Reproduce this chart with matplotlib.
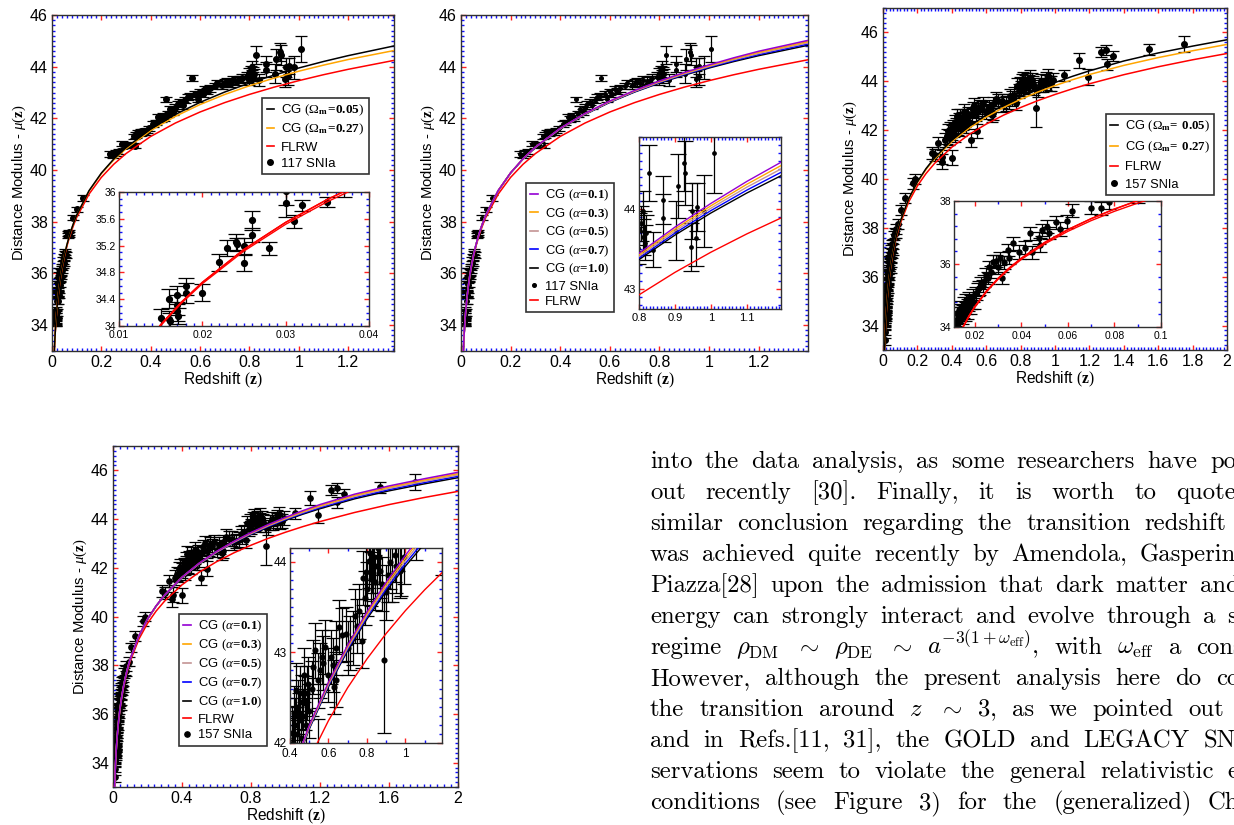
import re
import matplotlib
matplotlib.use('Agg')
import matplotlib.pyplot as plt
from matplotlib.lines import Line2D
from matplotlib.ticker import MultipleLocator, FuncFormatter

plt.rcParams['font.family'] = ['Liberation Sans', 'DejaVu Sans']
plt.rcParams['mathtext.fontset'] = 'custom'
plt.rcParams['mathtext.rm'] = 'Liberation Serif'
plt.rcParams['mathtext.it'] = 'Liberation Serif:italic'
plt.rcParams['mathtext.bf'] = 'Liberation Serif:bold'

# ---------------- model curves ----------------
z_model = [0.009, 0.01, 0.0125, 0.015, 0.0175, 0.02, 0.025, 0.03, 0.035, 0.04, 0.05,
           0.06, 0.07, 0.08, 0.09, 0.1, 0.15, 0.2, 0.25, 0.3, 0.4, 0.5, 0.6, 0.7,
           0.8, 0.9, 1.0, 1.1, 1.2, 1.4, 1.6, 1.8, 2.0]
mu_low_cg = [32.901, 33.131, 33.620, 34.019, 34.358, 34.652, 35.144, 35.547, 35.889,
             36.187, 36.686, 37.095, 37.443, 37.747, 38.016, 38.258]
mu_cg_om005 = mu_low_cg + [39.202, 39.885, 40.425, 40.871, 41.588, 42.154, 42.621, 43.020,
                           43.367, 43.674, 43.950, 44.200, 44.427, 44.831, 45.160, 45.440, 45.700]
mu_cg_om027 = [32.901, 33.131, 33.620, 34.019, 34.358, 34.652, 35.144, 35.547, 35.889,
               36.187, 36.683, 37.091, 37.438, 37.741, 38.009, 38.250, 39.187, 39.860,
               40.390, 40.826, 41.528, 42.079, 42.536, 42.925, 43.262, 43.559, 43.825,
               44.060, 44.277, 44.651, 44.970, 45.250, 45.510]
mu_flrw = [32.892, 33.121, 33.607, 34.005, 34.341, 34.632, 35.119, 35.518, 35.855, 36.147,
           36.637, 37.038, 37.378, 37.673, 37.933, 38.167, 39.071, 39.718, 40.223, 40.639,
           41.301, 41.820, 42.247, 42.611, 42.927, 43.208, 43.460, 43.689, 43.898, 44.270,
           44.594, 44.880, 45.137]
mu_cg_a01 = mu_low_cg + [39.207, 39.895, 40.440, 40.891, 41.618, 42.194, 42.671, 43.080,
                         43.447, 43.774, 44.070, 44.345, 44.597, 45.021, 45.360, 45.650, 45.920]
mu_cg_a03 = mu_low_cg + [39.206, 39.893, 40.436, 40.886, 41.611, 42.184, 42.659, 43.065,
                         43.427, 43.749, 44.040, 44.309, 44.555, 44.974, 45.310, 45.598, 45.865]
mu_cg_a05 = mu_low_cg + [39.205, 39.890, 40.433, 40.881, 41.603, 42.174, 42.646, 43.050,
                         43.407, 43.724, 44.010, 44.273, 44.512, 44.926, 45.260, 45.545, 45.810]
mu_cg_a07 = mu_low_cg + [39.203, 39.888, 40.429, 40.876, 41.596, 42.164, 42.634, 43.035,
                         43.387, 43.699, 43.980, 44.236, 44.470, 44.879, 45.210, 45.493, 45.755]
mu_cg_a10 = mu_cg_om005

alpha_labels = ['0.1', '0.3', '0.5', '0.7', '1.0']

# ---------------- 117 SNIa ----------------
z_snls = [0.0150, 0.0160, 0.0160, 0.0161, 0.0170, 0.0170, 0.0170, 0.0171, 0.0180, 0.0180,
          0.0200, 0.0220, 0.0230, 0.0240, 0.0241, 0.0250, 0.0250, 0.0260, 0.0260, 0.0280,
          0.0300, 0.0300, 0.0310, 0.0320, 0.0350, 0.0370, 0.0390, 0.0410, 0.0430, 0.0450,
          0.0470, 0.0490, 0.0510, 0.0530, 0.0550, 0.0630, 0.0650, 0.0670, 0.0690, 0.0860,
          0.1000, 0.1240,
          0.236, 0.249, 0.258, 0.270, 0.285, 0.300, 0.315, 0.331, 0.335, 0.340,
          0.348, 0.355, 0.360, 0.368, 0.375, 0.385, 0.395, 0.410, 0.420, 0.430,
          0.440, 0.450, 0.455, 0.462, 0.470, 0.478, 0.490, 0.500, 0.510, 0.520,
          0.530, 0.540, 0.550, 0.560, 0.566, 0.580, 0.590, 0.600, 0.610, 0.620,
          0.630, 0.640, 0.660, 0.670, 0.690, 0.700, 0.710, 0.720, 0.735, 0.750,
          0.760, 0.770, 0.790, 0.798, 0.800, 0.805, 0.810, 0.812, 0.814, 0.816,
          0.820, 0.828, 0.838, 0.867, 0.868, 0.904, 0.909, 0.925, 0.928, 0.946,
          0.948, 0.958, 0.960, 0.981, 1.009]
mu_snls = [34.12, 34.41, 34.11, 34.07, 34.46, 34.31, 34.22, 34.15, 34.59, 34.49,
           34.50, 34.95, 35.16, 35.25, 35.22, 35.20, 34.94, 35.36, 35.58, 35.16,
           36.01, 35.83, 35.56, 35.80, 35.85, 36.05, 36.25, 36.15, 36.35, 36.50,
           36.42, 36.62, 36.75, 36.82, 36.70, 37.48, 37.55, 37.60, 37.52, 38.15,
           38.48, 38.92,
           40.62, 40.58, 40.66, 40.72, 41.02, 40.95, 40.98, 41.30, 40.95, 41.36,
           41.45, 41.40, 41.50, 41.47, 41.44, 41.52, 41.62, 41.78, 41.84, 42.05,
           41.98, 42.10, 42.00, 42.74, 42.18, 42.36, 42.26, 42.42, 42.55, 42.63,
           42.50, 42.70, 42.82, 42.88, 43.55, 42.93, 42.74, 43.02, 42.96, 43.12,
           43.06, 43.16, 43.26, 43.38, 43.30, 43.36, 43.42, 43.35, 43.48, 43.44,
           43.50, 43.55, 43.60, 43.51, 43.75, 43.82, 43.98, 43.65, 43.72, 43.58,
           43.70, 44.45, 43.49, 44.11, 43.89, 43.73, 44.29, 44.58, 44.45, 43.52,
           43.97, 43.64, 44.02, 43.97, 44.70]
err_snls = [0.14, 0.14, 0.12, 0.12, 0.13, 0.15, 0.14, 0.12, 0.13, 0.15,
            0.13, 0.13, 0.12, 0.12, 0.10, 0.12, 0.12, 0.10, 0.14, 0.10,
            0.20, 0.21, 0.10, 0.08, 0.07, 0.12, 0.12, 0.12, 0.12, 0.12,
            0.12, 0.12, 0.12, 0.12, 0.12, 0.10, 0.10, 0.10, 0.10, 0.10,
            0.10, 0.10,
            0.10, 0.10, 0.10, 0.10, 0.10, 0.10, 0.10, 0.10, 0.10, 0.10,
            0.10, 0.10, 0.10, 0.10, 0.10, 0.10, 0.10, 0.10, 0.10, 0.12,
            0.12, 0.12, 0.12, 0.10, 0.12, 0.12, 0.12, 0.12, 0.12, 0.12,
            0.12, 0.12, 0.12, 0.12, 0.12, 0.12, 0.12, 0.12, 0.12, 0.12,
            0.12, 0.12, 0.12, 0.12, 0.15, 0.15, 0.15, 0.15, 0.15, 0.15,
            0.15, 0.15, 0.18, 0.20, 0.20, 0.22, 0.25, 0.22, 0.25, 0.22,
            0.22, 0.35, 0.22, 0.30, 0.30, 0.37, 0.40, 0.35, 0.40, 0.30,
            0.35, 0.35, 0.30, 0.45, 0.50]

# ---------------- 157 SNIa ----------------
z_gold = [0.0104, 0.0110, 0.0118, 0.0120, 0.0122, 0.0125, 0.0128, 0.0132, 0.0135, 0.0138,
          0.0142, 0.0145, 0.0150, 0.0153, 0.0156, 0.0160, 0.0163, 0.0167, 0.0172, 0.0176,
          0.0180, 0.0185, 0.0190, 0.0196, 0.0204, 0.0212, 0.0219, 0.0226, 0.0234, 0.0240,
          0.0248, 0.0255, 0.0262, 0.0270, 0.0277, 0.0290, 0.0298, 0.0306, 0.0316, 0.0325,
          0.0342, 0.0348, 0.0364, 0.0388, 0.0414, 0.0436, 0.0446, 0.0475, 0.0480, 0.0487,
          0.0510, 0.0517, 0.0550, 0.0567, 0.0597, 0.0618, 0.0700, 0.0740, 0.0777, 0.0900,
          0.103, 0.128, 0.176, 0.186, 0.283, 0.300, 0.322, 0.341, 0.345, 0.360,
          0.370, 0.380, 0.385, 0.390, 0.400, 0.400, 0.409, 0.415, 0.419, 0.421,
          0.425, 0.431, 0.435, 0.440, 0.445, 0.450, 0.455, 0.460, 0.465, 0.473,
          0.478, 0.485, 0.490, 0.495, 0.500, 0.510, 0.515, 0.522, 0.531, 0.543,
          0.545, 0.555, 0.565, 0.574, 0.583, 0.600, 0.615, 0.623, 0.631, 0.640,
          0.640, 0.657, 0.670, 0.690, 0.700, 0.713, 0.730, 0.740, 0.748, 0.760,
          0.772, 0.778, 0.790, 0.797, 0.800, 0.810, 0.815, 0.821, 0.825, 0.830,
          0.835, 0.844, 0.850, 0.855, 0.865, 0.870, 0.880, 0.887, 0.901, 0.910,
          0.920, 0.930, 0.948, 0.950, 0.960, 0.970, 0.978, 0.990, 1.054, 1.141,
          1.190, 1.266, 1.297, 1.300, 1.340, 1.548, 1.752]
mu_gold = [33.40, 33.72, 34.02, 34.20, 34.45, 34.08, 34.32, 34.55, 34.18, 34.40,
           34.62, 34.28, 34.50, 34.72, 34.38, 34.60, 34.85, 34.48, 34.70, 34.92,
           34.62, 34.80, 35.00, 34.75, 35.07, 35.20, 35.23, 35.40, 35.30, 35.46,
           35.65, 35.55, 35.91, 35.75, 36.07, 36.10, 35.90, 36.18, 35.55, 36.05,
           36.44, 36.20, 36.66, 36.39, 36.52, 36.97, 36.37, 36.82, 36.60, 37.08,
           37.19, 36.98, 37.32, 37.10, 37.35, 37.69, 37.79, 37.77, 37.96, 38.15,
           38.73, 39.21, 39.82, 40.00, 41.05, 40.98, 41.46, 40.71, 40.90, 41.60,
           41.75, 41.95, 41.70, 42.05, 40.87, 41.90, 42.11, 42.00, 41.80, 42.33,
           42.20, 42.58, 42.10, 42.40, 42.25, 42.55, 42.05, 42.45, 42.30, 42.75,
           42.44, 42.20, 42.55, 42.65, 42.35, 41.59, 42.60, 42.84, 43.02, 42.69,
           41.96, 42.80, 42.95, 42.88, 43.06, 42.75, 42.95, 42.86, 42.62, 43.05,
           42.70, 43.28, 43.19, 43.20, 43.05, 43.10, 43.16, 43.40, 43.29, 43.45,
           43.13, 43.82, 43.60, 43.89, 43.70, 44.01, 44.10, 43.81, 43.95, 43.87,
           44.05, 43.77, 43.95, 44.15, 44.05, 43.90, 43.75, 42.91, 43.66, 43.85,
           44.00, 43.85, 44.07, 43.95, 44.20, 43.90, 43.92, 44.05, 44.24, 44.86,
           44.18, 45.20, 45.27, 44.69, 45.02, 45.31, 45.54]
err_gold = [0.20, 0.22, 0.20, 0.18, 0.20, 0.22, 0.20, 0.18, 0.20, 0.22,
            0.20, 0.18, 0.20, 0.22, 0.20, 0.18, 0.20, 0.22, 0.20, 0.18,
            0.20, 0.22, 0.20, 0.18, 0.20, 0.20, 0.22, 0.20, 0.18, 0.20,
            0.22, 0.20, 0.20, 0.18, 0.20, 0.20, 0.22, 0.20, 0.20, 0.20,
            0.20, 0.20, 0.20, 0.22, 0.20, 0.20, 0.20, 0.20, 0.22, 0.20,
            0.20, 0.20, 0.20, 0.22, 0.20, 0.20, 0.20, 0.20, 0.20, 0.20,
            0.20, 0.20, 0.22, 0.20, 0.25, 0.25, 0.25, 0.30, 0.30, 0.30,
            0.30, 0.30, 0.30, 0.30, 0.30, 0.30, 0.30, 0.30, 0.30, 0.30,
            0.30, 0.30, 0.30, 0.30, 0.30, 0.30, 0.30, 0.30, 0.30, 0.30,
            0.30, 0.30, 0.30, 0.30, 0.30, 0.30, 0.30, 0.30, 0.30, 0.30,
            0.30, 0.30, 0.30, 0.30, 0.30, 0.30, 0.30, 0.30, 0.30, 0.30,
            0.30, 0.30, 0.30, 0.30, 0.30, 0.30, 0.30, 0.30, 0.30, 0.30,
            0.30, 0.30, 0.30, 0.30, 0.30, 0.30, 0.30, 0.30, 0.30, 0.30,
            0.30, 0.30, 0.30, 0.30, 0.30, 0.30, 0.30, 0.80, 0.30, 0.30,
            0.30, 0.30, 0.30, 0.30, 0.30, 0.30, 0.30, 0.30, 0.22, 0.30,
            0.33, 0.20, 0.20, 0.22, 0.20, 0.22, 0.33]

# ---------------- text ----------------
text_lines = [
    "into the data analysis, as some researchers have pointed",
    "out recently [30].  Finally, it is worth to quote the",
    "similar conclusion regarding the transition redshift that",
    "was achieved quite recently by Amendola, Gasperini and",
    "Piazza[28] upon the admission that dark matter and dark",
    "energy can strongly interact and evolve through a scaling",
    r"regime $\rho_{\rm DM}$ $\sim$ $\rho_{\rm DE}$ $\sim$ $a^{-3(1+\omega_{\rm eff})}$, with $\omega_{\rm eff}$ a constant.",
    "However, although the present analysis here do confirm",
    r"the transition around $z$ $\sim$ $3$, as we pointed out before",
    "and in Refs.[11, 31], the GOLD and LEGACY SNe Ia ob-",
    "servations seem to violate the general relativistic energy",
    "conditions (see Figure 3) for the (generalized) Chaplygin",
]

# ======================================================================
W, H = 1234, 825
fig = plt.figure(figsize=(W / 100, H / 100), dpi=100)
fig.patch.set_facecolor('white')

C_PURPLE, C_ORANGE, C_ROSY, C_BLUE = '#9400d3', '#ffa500', '#c49494', '#0000ff'


def rect(l, t, r, b):
    return [l / W, 1 - b / H, (r - l) / W, (b - t) / H]


def gfmt(v, p):
    return '%g' % round(v, 6)


def style(ax, xmaj, xmin, ymaj, ymin, lsize, majlen, minlen, pad, xpad=None):
    ax.xaxis.set_major_locator(MultipleLocator(xmaj))
    ax.xaxis.set_minor_locator(MultipleLocator(xmin))
    ax.yaxis.set_major_locator(MultipleLocator(ymaj))
    ax.yaxis.set_minor_locator(MultipleLocator(ymin))
    ax.xaxis.set_major_formatter(FuncFormatter(gfmt))
    ax.yaxis.set_major_formatter(FuncFormatter(gfmt))
    ax.tick_params(which='both', direction='in', top=True, right=True)
    ax.tick_params(which='major', color='#ff2020', length=majlen, width=1.0,
                   labelsize=lsize, pad=pad)
    if xpad is not None:
        ax.tick_params(axis='x', which='major', pad=xpad)
    ax.tick_params(which='minor', color='#1010ff', length=minlen, width=1.0)
    for s in ax.spines.values():
        s.set_color('#303030')
        s.set_linewidth(1.0)


def main_axes(r, xlim, ylim, xmaj, xmin):
    ax = fig.add_axes(r)
    ax.set_xlim(*xlim)
    ax.set_ylim(*ylim)
    style(ax, xmaj, xmin, 2, 0.2, 11.5, 3.8, 2.2, 3.0)
    ax.set_xlabel(r'Redshift $(\mathbf{z})$', fontsize=11.2, labelpad=0.5)
    ax.set_ylabel(r'Distance Modulus - $\mu(\mathbf{z})$', fontsize=10.7, labelpad=1.5)
    return ax


def data(ax, z, mu, e, ms, cap):
    ax.errorbar(z, mu, yerr=e, fmt='o', color='black', ecolor='black', ms=ms,
                elinewidth=0.9, capsize=cap, capthick=0.9, zorder=2)


def curves_om(ax, lw=1.1, allred=False):
    ax.plot(z_model, mu_flrw, color='#ff0000', lw=lw, zorder=3)
    ax.plot(z_model, mu_cg_om027, color='#ff0000' if allred else C_ORANGE, lw=lw, zorder=3)
    ax.plot(z_model, mu_cg_om005, color='#ff0000' if allred else 'black', lw=lw, zorder=3)


def curves_alpha(ax, lw=1.1):
    ax.plot(z_model, mu_flrw, color='#ff0000', lw=lw, zorder=3)
    for mu, c in zip([mu_cg_a10, mu_cg_a07, mu_cg_a05, mu_cg_a03, mu_cg_a01],
                     ['black', C_BLUE, C_ROSY, C_ORANGE, C_PURPLE]):
        ax.plot(z_model, mu, color=c, lw=lw, zorder=3)


def legend(ax, handles, labels, anchor, fs=10, ls=0.22):
    leg = ax.legend(handles, labels, loc='upper left', bbox_to_anchor=anchor,
                    borderaxespad=0, fontsize=fs, frameon=True, fancybox=False,
                    framealpha=1, edgecolor='#333333', handlelength=0.55,
                    handletextpad=0.55, borderpad=0.35, labelspacing=ls)
    leg.get_frame().set_linewidth(1.2)
    leg.set_zorder(10)


def ln(c):
    return Line2D([], [], color=c, lw=1.2)


def dot(ms):
    return Line2D([], [], color='black', marker='o', ls='none', ms=ms)


om_labels = [r'CG $(\Omega_{\mathbf{m}}\!\mathbf{=}\!\mathbf{0.05})$',
             r'CG $(\Omega_{\mathbf{m}}\!\mathbf{=}\!\mathbf{0.27})$']
om_labels3 = [r'CG $(\Omega_{\mathbf{m}}\!\mathbf{=}\;\mathbf{0.05})$',
              r'CG $(\Omega_{\mathbf{m}}\!\mathbf{=}\;\mathbf{0.27})$']
a_labels = [r'CG $(\alpha\!\mathbf{=}\!\mathbf{%s})$' % a for a in alpha_labels]
a_colors = [C_PURPLE, C_ORANGE, C_ROSY, C_BLUE, 'black']

# ---------------- panel 1 ----------------
ax1 = main_axes(rect(52, 15, 394, 351), (0, 1.386), (33, 46), 0.2, 0.02)
data(ax1, z_snls, mu_snls, err_snls, 4.0, 4.5)
curves_om(ax1)
legend(ax1, [ln('black'), ln(C_ORANGE), ln('#ff0000'), dot(4)],
       om_labels + ['FLRW', '117 SNIa'], (0.614, 0.753), fs=9.5, ls=0.3)

in1 = fig.add_axes(rect(119, 192, 369, 326))
in1.set_xlim(0.01, 0.04)
in1.set_ylim(34, 36)
style(in1, 0.01, 0.001, 0.4, 0.1, 7.5, 3.5, 2.0, 2.0, xpad=3.2)
data(in1, z_snls, mu_snls, err_snls, 4.2, 6)
curves_om(in1, lw=1.0, allred=True)

# ---------------- panel 2 ----------------
ax2 = main_axes(rect(461, 15, 808, 351), (0, 1.399), (33, 46), 0.2, 0.02)
data(ax2, z_snls, mu_snls, err_snls, 2.6, 4.5)
curves_alpha(ax2)
legend(ax2, [ln(c) for c in a_colors] + [dot(2.6), ln('#ff0000')],
       a_labels + ['117 SNIa', 'FLRW'], (0.187, 0.5), fs=9.4, ls=0.24)

in2 = fig.add_axes(rect(639, 137, 781, 309))
in2.set_xlim(0.8, 1.195)
in2.set_ylim(42.75, 44.9)
style(in2, 0.1, 0.01, 1, 0.1, 8, 3.5, 2.0, 2.0, xpad=3.0)
data(in2, z_snls, mu_snls, err_snls, 2.4, 5.5)
curves_alpha(in2, lw=1.0)

# ---------------- panel 3 ----------------
ax3 = main_axes(rect(883, 8, 1227, 350), (0, 2), (33, 47), 0.2, 0.02)
data(ax3, z_gold, mu_gold, err_gold, 4.0, 4.5)
curves_om(ax3)
legend(ax3, [ln('black'), ln(C_ORANGE), ln('#ff0000'), dot(4)],
       om_labels3 + ['FLRW', '157 SNIa'], (0.648, 0.690), fs=9.3, ls=0.45)

in3 = fig.add_axes(rect(954, 201, 1161, 327))
in3.set_xlim(0.011, 0.1)
in3.set_ylim(34, 38)
style(in3, 0.02, 0.01, 2, 0.4, 7.5, 3.5, 2.0, 2.0, xpad=3.0)
data(in3, z_gold, mu_gold, err_gold, 3.6, 5)
curves_om(in3, lw=1.0, allred=True)

# ---------------- panel 4 ----------------
ax4 = main_axes(rect(113, 446, 458, 787), (0, 2), (33, 47), 0.4, 0.04)
data(ax4, z_gold, mu_gold, err_gold, 3.8, 4.5)
curves_alpha(ax4)
legend(ax4, [ln(c) for c in a_colors] + [ln('#ff0000'), dot(3.8)],
       a_labels + ['FLRW', '157 SNIa'], (0.191, 0.507), fs=9.4, ls=0.27)

in4 = fig.add_axes(rect(290, 548, 442, 743))
in4.set_xlim(0.4, 1.19)
in4.set_ylim(42, 44.15)
style(in4, 0.2, 0.1, 1, 0.1, 8.5, 3.5, 2.0, 2.0, xpad=3.5)
data(in4, z_gold, mu_gold, err_gold, 3.4, 5)
curves_alpha(in4, lw=1.0)

# ---------------- text block (justified, clipped at the page edge) ----------------
tx0, ty0 = 650, 440
vis_w = W - tx0
axt = fig.add_axes([tx0 / W, 0, vis_w / W, (H - ty0) / H])
axt.set_xlim(0, vis_w)
axt.set_ylim(H - ty0, 0)
axt.axis('off')
renderer = fig.canvas.get_renderer()
line_widths = [641, 640, 636, 645, 650, 650, 645, 648, 655, 680, 648, 668]
base, step, tfs = 468 - ty0, 31, 17.8
for k, line in enumerate(text_lines):
    toks = re.findall(r'\$[^$]*\$\S*|\S+', line)
    objs, widths = [], []
    for t in toks:
        o = axt.text(0, base + k * step, t, fontsize=tfs, family='cmr10',
                     math_fontfamily='cm', va='baseline', ha='left', clip_on=True)
        objs.append(o)
        widths.append(o.get_window_extent(renderer).width)
    gap = (line_widths[k] - sum(widths)) / (len(toks) - 1)
    x = 0
    for o, w in zip(objs, widths):
        if x >= vis_w - 2:
            o.remove()
        else:
            o.set_x(x)
        x += w + gap

fig.savefig('out.png', dpi=100, facecolor='white')
